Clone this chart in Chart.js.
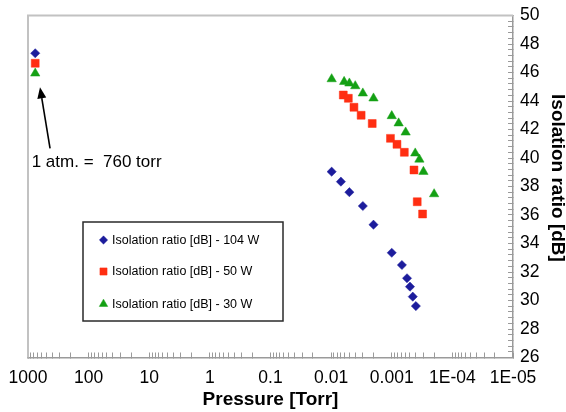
<!DOCTYPE html>
<html>
<head>
<meta charset="utf-8">
<script src="https://cdn.jsdelivr.net/npm/chart.js@4.4.1/dist/chart.umd.min.js"></script>
<style>
  html, body { margin: 0; padding: 0; background: #ffffff; }
  #wrap { width: 566px; height: 412px; }
</style>
</head>
<body>
<div id="wrap"><canvas id="c" width="566" height="412"></canvas></div>
<script>
// ---- data ----
const seriesLabels = [
  'Isolation ratio [dB] - 104 W',
  'Isolation ratio [dB] - 50 W',
  'Isolation ratio [dB] - 30 W'
];
const pressure104 = [760, 0.0098, 0.0069, 0.005, 0.003, 0.002, 0.001, 0.00068, 0.00056, 0.0005, 0.00045, 0.0004];
const ratio104    = [47.35, 39.04, 38.34, 37.6, 36.63, 35.32, 33.35, 32.49, 31.56, 30.97, 30.27, 29.61];
const pressure50  = [760, 0.0063, 0.0052, 0.0042, 0.0032, 0.0021, 0.00105, 0.00082, 0.00062, 0.00043, 0.00038, 0.00031];
const ratio50     = [46.65, 44.42, 44.19, 43.56, 43.0, 42.42, 41.38, 40.96, 40.4, 39.16, 36.93, 36.07];
const pressure30  = [760, 0.0098, 0.0061, 0.005, 0.004, 0.003, 0.002, 0.001, 0.00077, 0.00059, 0.00041, 0.00035, 0.0003, 0.0002];
const ratio30     = [45.94, 45.54, 45.35, 45.24, 45.05, 44.54, 44.19, 42.95, 42.44, 41.8, 40.33, 39.9, 39.04, 37.47];

const decadeValues = [1000, 100, 10, 1, 0.1, 0.01, 0.001, 0.0001, 0.00001];
const decadeLabels = ['1000', '100', '10', '1', '0.1', '0.01', '0.001', '1E-04', '1E-05'];
const yMin = 26, yMax = 50, yMajor = 2, yMinor = 0.4;

const annotationText = '1 atm. =  760 torr';
const xTitle = 'Pressure [Torr]';
const yTitle = 'Isolation ratio [dB]';

const colors = ['#1c1c9c', '#ff2e12', '#14a014'];
const styles = ['rectRot', 'rect', 'triangle'];
const radii = [4.6, 5.6, 5.4];

const FONT = "'Liberation Sans', Arial, Helvetica, sans-serif";

function pts(xs, ys) { return xs.map((x, i) => ({ x: x, y: ys[i] })); }

const datasets = [
  { label: seriesLabels[0], data: pts(pressure104, ratio104) },
  { label: seriesLabels[1], data: pts(pressure50, ratio50) },
  { label: seriesLabels[2], data: pts(pressure30, ratio30) }
].map((d, i) => Object.assign(d, {
  pointStyle: styles[i],
  pointRadius: radii[i],
  pointHoverRadius: radii[i],
  backgroundColor: colors[i],
  borderColor: colors[i],
  borderWidth: 0.5,
  showLine: false
}));

// frame on top and left of plot area
const framePlugin = {
  id: 'frame',
  beforeDatasetsDraw(chart) {
    const { ctx, chartArea: a } = chart;
    ctx.save();
    ctx.strokeStyle = '#c2c2c2';
    ctx.lineWidth = 2;
    ctx.beginPath();
    ctx.moveTo(a.left, a.bottom);
    ctx.lineTo(a.left, a.top);
    ctx.lineTo(a.right, a.top);
    ctx.stroke();
    ctx.restore();
  }
};

// right-hand axis title, rotated to read top to bottom
const yTitlePlugin = {
  id: 'yTitle',
  afterDraw(chart) {
    const { ctx } = chart;
    const ys = chart.scales.y;
    ctx.save();
    ctx.translate(ys.right - 9, ys.getPixelForValue(38.6));
    ctx.rotate(Math.PI / 2);
    ctx.font = 'bold 19px ' + FONT;
    ctx.fillStyle = '#000';
    ctx.textAlign = 'center';
    ctx.textBaseline = 'middle';
    ctx.fillText(yTitle, 0, 0);
    ctx.restore();
  }
};

// annotation arrow + text positioned through the scales
const annotationPlugin = {
  id: 'annot',
  afterDatasetsDraw(chart) {
    const { ctx } = chart;
    const xs = chart.scales.x, ys = chart.scales.y;
    const tipX = xs.getPixelForValue(634), tipY = ys.getPixelForValue(44.96);
    const tailX = xs.getPixelForValue(433), tailY = ys.getPixelForValue(40.68);
    ctx.save();
    ctx.strokeStyle = '#000';
    ctx.fillStyle = '#000';
    ctx.lineWidth = 1.6;
    const ang = Math.atan2(tipY - tailY, tipX - tailX);
    const hl = 11, hw = 4.5;
    const bx = tipX - hl * Math.cos(ang), by = tipY - hl * Math.sin(ang);
    ctx.beginPath();
    ctx.moveTo(tailX, tailY);
    ctx.lineTo(bx, by);
    ctx.stroke();
    ctx.beginPath();
    ctx.moveTo(tipX, tipY);
    ctx.lineTo(bx + hw * Math.sin(ang), by - hw * Math.cos(ang));
    ctx.lineTo(bx - hw * Math.sin(ang), by + hw * Math.cos(ang));
    ctx.closePath();
    ctx.fill();
    ctx.font = '17px ' + FONT;
    ctx.textBaseline = 'alphabetic';
    ctx.textAlign = 'left';
    ctx.fillText(annotationText, xs.getPixelForValue(869), ys.getPixelForValue(39.37));
    ctx.restore();
  }
};

// boxed legend inside the plot area
const boxLegendPlugin = {
  id: 'boxLegend',
  afterDatasetsDraw(chart) {
    const { ctx, chartArea: a } = chart;
    const bx = a.left + 55, by = a.top + 206.5, bw = 200, bh = 99;
    ctx.save();
    ctx.fillStyle = '#ffffff';
    ctx.fillRect(bx, by, bw, bh);
    ctx.strokeStyle = '#2a2a2a';
    ctx.lineWidth = 1.5;
    ctx.strokeRect(bx, by, bw, bh);
    const rowY = [18, 49.5, 82];
    ctx.font = '12.5px ' + FONT;
    ctx.textBaseline = 'middle';
    ctx.textAlign = 'left';
    chart.data.datasets.forEach((ds, i) => {
      const y = by + rowY[i];
      ctx.fillStyle = ds.backgroundColor;
      ctx.strokeStyle = ds.borderColor;
      ctx.lineWidth = 0.5;
      Chart.helpers.drawPoint(ctx, { pointStyle: ds.pointStyle, radius: ds.pointRadius * 0.9, borderWidth: 0.5, rotation: 0 }, bx + 20.5, y);
      ctx.fillStyle = '#000';
      ctx.fillText(ds.label, bx + 29, y + 0.5);
    });
    ctx.restore();
  }
};

function isDecade(v) {
  const l = Math.log10(v);
  return Math.abs(l - Math.round(l)) < 1e-9;
}

new Chart(document.getElementById('c'), {
  type: 'scatter',
  data: { datasets: datasets },
  plugins: [framePlugin, annotationPlugin, boxLegendPlugin, yTitlePlugin],
  options: {
    responsive: false,
    animation: false,
    devicePixelRatio: 1,
    layout: { padding: { left: 28, top: 15.5, right: 0, bottom: 0 } },
    plugins: {
      legend: { display: false },
      tooltip: { enabled: false }
    },
    scales: {
      x: {
        type: 'logarithmic',
        position: 'bottom',
        reverse: true,
        min: decadeValues[decadeValues.length - 1],
        max: decadeValues[0],
        afterBuildTicks(scale) {
          const t = [];
          for (let d = 0; d < decadeValues.length; d++) {
            const base = decadeValues[d];
            t.push({ value: base, major: true });
            if (d < decadeValues.length - 1) {
              for (let m = 2; m <= 9; m++) {
                t.push({ value: +(decadeValues[d + 1] * m).toPrecision(6), major: false });
              }
            }
          }
          t.sort((a, b) => a.value - b.value);
          scale.ticks = t;
        },
        afterFit(scale) {
          scale.height = 54.5;
          scale.paddingLeft = 0;
          scale.paddingRight = 0;
        },
        ticks: {
          autoSkip: false,
          maxRotation: 0,
          minRotation: 0,
          padding: 15.5,
          color: '#000',
          font: { family: FONT, size: 17.5 },
          callback(value) {
            if (!isDecade(value)) return '';
            const idx = decadeValues.findIndex(d => Math.abs(Math.log10(d) - Math.log10(value)) < 1e-9);
            return idx >= 0 ? decadeLabels[idx] : '';
          }
        },
        grid: {
          drawOnChartArea: false,
          drawTicks: true,
          tickLength: -5,
          color: '#9a9a9a',
          lineWidth: 1
        },
        border: { display: true, color: '#9a9a9a', width: 1.5 },
        title: {
          display: true,
          text: xTitle,
          color: '#000',
          font: { family: FONT, size: 19, weight: 'bold', lineHeight: 1 },
          padding: { top: 0, bottom: 3 }
        }
      },
      y: {
        type: 'linear',
        position: 'right',
        min: yMin,
        max: yMax,
        afterFit(scale) {
          scale.width = 53;
          scale.paddingTop = 0;
          scale.paddingBottom = 0;
        },
        ticks: {
          stepSize: yMinor,
          autoSkip: false,
          padding: 12,
          color: '#000',
          font: { family: FONT, size: 17.5 },
          callback(value) {
            const r = Math.round(value * 10) / 10;
            return (Math.abs(r / yMajor - Math.round(r / yMajor)) < 1e-6) ? String(Math.round(r)) : '';
          }
        },
        grid: {
          drawOnChartArea: false,
          drawTicks: true,
          tickLength: -5,
          color: '#9a9a9a',
          lineWidth: 1
        },
        border: { display: true, color: '#9a9a9a', width: 1.5 },
        title: { display: false }
      }
    }
  }
});
</script>
</body>
</html>
